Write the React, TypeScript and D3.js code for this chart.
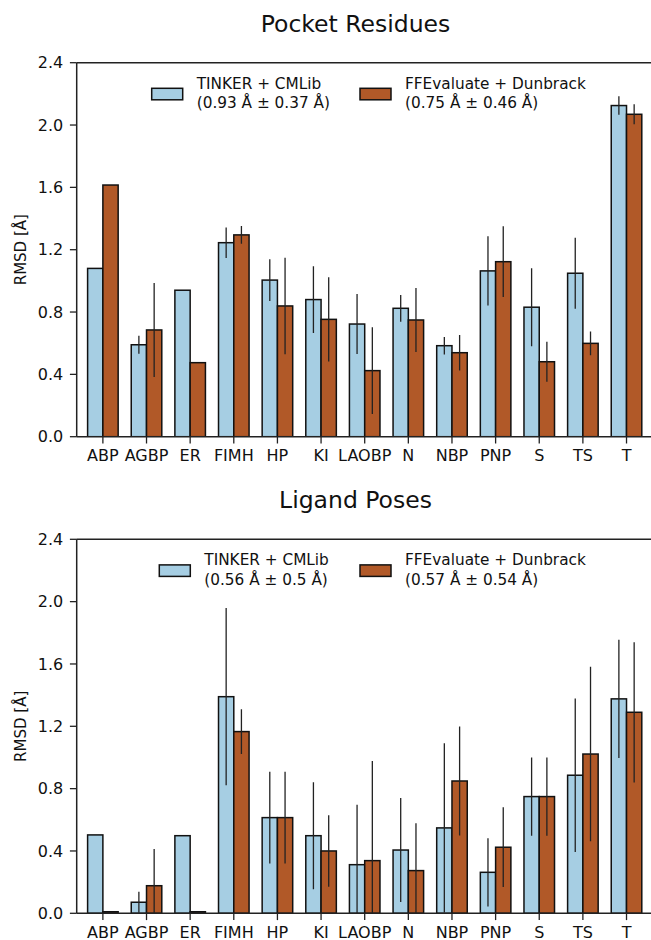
import React from 'react';
import * as d3 from 'd3';

const categories = ['ABP', 'AGBP', 'ER', 'FIMH', 'HP', 'KI', 'LAOBP', 'N', 'NBP', 'PNP', 'S', 'TS', 'T'];
const yTicks = [0, 0.4, 0.8, 1.2, 1.6, 2.0, 2.4];

// Pocket residues
const pocketTinker = [1.08, 0.59, 0.94, 1.245, 1.005, 0.88, 0.723, 0.824, 0.584, 1.064, 0.831, 1.049, 2.125];
const pocketTinkerErr = [null, 0.058, null, 0.098, 0.134, 0.214, 0.193, 0.086, 0.056, 0.222, 0.25, 0.228, 0.059];
const pocketFfe = [1.615, 0.685, 0.475, 1.295, 0.839, 0.753, 0.424, 0.749, 0.539, 1.123, 0.481, 0.599, 2.069];
const pocketFfeErr = [null, 0.302, null, 0.057, 0.31, 0.27, 0.279, 0.206, 0.114, 0.227, 0.129, 0.076, 0.064];

// Ligand poses
const ligandTinker = [0.503, 0.071, 0.498, 1.39, 0.614, 0.498, 0.312, 0.406, 0.548, 0.263, 0.749, 0.886, 1.376];
const ligandTinkerErr = [null, 0.068, null, 0.569, 0.294, 0.343, 0.384, 0.334, 0.543, 0.219, 0.251, 0.493, 0.38];
const ligandFfe = [0.01, 0.177, 0.01, 1.166, 0.614, 0.4, 0.338, 0.274, 0.849, 0.424, 0.749, 1.022, 1.29];
const ligandFfeErr = [null, 0.236, null, 0.143, 0.294, 0.23, 0.64, 0.304, 0.35, 0.256, 0.251, 0.56, 0.45];

const seriesNames = ['TINKER + CMLib', 'FFEvaluate + Dunbrack'];
const pocketStats = ['(0.93 Å ± 0.37 Å)', '(0.75 Å ± 0.46 Å)'];
const ligandStats = ['(0.56 Å ± 0.5 Å)', '(0.57 Å ± 0.54 Å)'];

const colors = ['#a6cee3', '#b15928'];
const font = 'DejaVu Sans';

const W = 651;
const H = 940;
const left = 76.7;
const right = 652.7;
const plotH = 374;
const barW = 0.35;

type PanelProps = {
  id: string;
  top: number;
  title: string;
  series: number[][];
  errors: (number | null)[][];
  stats: string[];
  legendX: number[];
};

function Panel({ id, top, title, series, errors, stats, legendX }: PanelProps) {
  const x = d3.scaleLinear().domain([-0.6, categories.length - 0.4]).range([left, right]);
  const y = d3.scaleLinear().domain([0, 2.4]).range([top + plotH, top]);
  const bottom = y(0);
  const offsets = [-barW / 2, barW / 2];

  return (
    <g>
      <clipPath id={id}>
        <rect x={left} y={top} width={right - left} height={plotH} />
      </clipPath>
      <text x={355.5} y={top - 31} textAnchor="middle" fontSize={23.5} fontFamily={font} fill="#111">{title}</text>

      <g clipPath={`url(#${id})`}>
        {series.map((vals, s) => vals.map((v, i) => {
          const cx = x(i + offsets[s]);
          const x0 = x(i + offsets[s] - barW / 2);
          const x1 = x(i + offsets[s] + barW / 2);
          return (
            <rect key={`b${s}-${i}`} x={x0} y={y(v)} width={x1 - x0} height={bottom - y(v)}
              fill={colors[s]} stroke="#111" strokeWidth={1.5} />
          );
        }))}
        {series.map((vals, s) => vals.map((v, i) => {
          const e = errors[s][i];
          if (e == null) return null;
          const cx = x(i + offsets[s]);
          return (
            <line key={`e${s}-${i}`} x1={cx} x2={cx} y1={y(v + e)} y2={y(v - e)} stroke="#222" strokeWidth={1.3} />
          );
        }))}
      </g>

      {/* spines */}
      <line x1={left} x2={left} y1={top} y2={bottom} stroke="#222" strokeWidth={1.5} />
      <line x1={left} x2={right} y1={top} y2={top} stroke="#222" strokeWidth={1.5} />
      <line x1={left} x2={right} y1={bottom} y2={bottom} stroke="#222" strokeWidth={1.5} />
      <line x1={right} x2={right} y1={top} y2={bottom} stroke="#222" strokeWidth={1.5} />

      {yTicks.map(t => (
        <g key={`y${t}`}>
          <line x1={left - 6.8} x2={left} y1={y(t)} y2={y(t)} stroke="#222" strokeWidth={1.3} />
          <text x={left - 13.5} y={y(t)} dy="0.36em" textAnchor="end" fontSize={16} fontFamily={font} fill="#111">{t.toFixed(1)}</text>
        </g>
      ))}
      {categories.map((c, i) => (
        <g key={`x${c}`}>
          <line x1={x(i)} x2={x(i)} y1={bottom} y2={bottom + 6.8} stroke="#222" strokeWidth={1.3} />
          <text x={x(i)} y={bottom + 24.5} textAnchor="middle" fontSize={16} fontFamily={font} fill="#111">{c}</text>
        </g>
      ))}
      <text transform={`translate(26,${(top + bottom) / 2}) rotate(-90)`} textAnchor="middle" fontSize={15} fontFamily={font} fill="#111">RMSD [Å]</text>

      {seriesNames.map((n, s) => (
        <g key={`l${s}`}>
          <rect x={legendX[s]} y={top + 25.6} width={31} height={11.5} fill={colors[s]} stroke="#111" strokeWidth={1.5} />
          <text x={legendX[s] + 45} y={top + 26} fontSize={15.3} fontFamily={font} fill="#111">{n}</text>
          <text x={legendX[s] + 45} y={top + 45.5} fontSize={15.3} fontFamily={font} fill="#111">{stats[s]}</text>
        </g>
      ))}
    </g>
  );
}

export default function App() {
  return (
    <svg width={W} height={H} viewBox={`0 0 ${W} ${H}`} style={{ position: 'absolute', left: 0, top: 0, background: '#fff' }}>
      <Panel id="clipA" top={62.7} title="Pocket Residues" series={[pocketTinker, pocketFfe]}
        errors={[pocketTinkerErr, pocketFfeErr]} stats={pocketStats} legendX={[151.7, 360]} />
      <Panel id="clipB" top={539.3} title="Ligand Poses" series={[ligandTinker, ligandFfe]}
        errors={[ligandTinkerErr, ligandFfeErr]} stats={ligandStats} legendX={[159.3, 360]} />
    </svg>
  );
}
